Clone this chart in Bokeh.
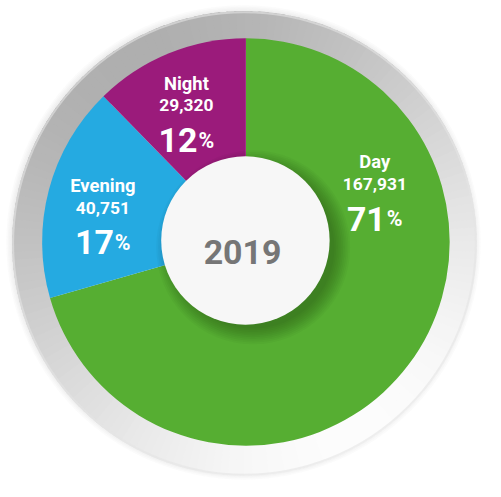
import math
from bokeh.plotting import figure
from bokeh.models import Range1d, ColumnDataSource
from bokeh.core.properties import value
from bokeh.embed import file_html
from bokeh.resources import INLINE

# ---- data ----
categories = ["Day", "Evening", "Night"]
counts = [167931, 40751, 29320]
colors = ["#56AE32", "#25AAE1", "#9B1B7B"]
center_label = "2019"

# ---- layout (label anchor: fraction along wedge, radius) ----
label_frac = [0.259, 0.479, 0.47]
label_rad = [146, 152, 154]

W, H = 485, 481
S = W / 501.0  # px per data unit

def Y(img_y):
    return 497 - img_y

def fs(px):
    return "%.1fpx" % (px * S)

p = figure(width=W, height=H, output_backend="svg", toolbar_location=None,
           x_range=Range1d(0, 501), y_range=Range1d(0, 497),
           min_border=0, outline_line_color=None, background_fill_color="white",
           border_fill_color="white")
p.axis.visible = False
p.grid.visible = False

cx, cy = 253.5, Y(249.5)
R = 210.5

# outer soft shadow
for i in range(4):
    p.circle(x=251, y=Y(250), radius=245 - i * 1.5, fill_color="#9a9a9a",
             fill_alpha=0.045, line_color=None)

# grey ring with angular shading
rcx, rcy = 252, Y(251)
n = 180
starts, ends, cols = [], [], []
for k in range(n):
    a0 = 2 * math.pi * k / n
    a1 = 2 * math.pi * (k + 1) / n + 0.01
    am = (a0 + a1) / 2
    c = 214 + 20 * math.cos(am) - 33 * math.sin(am)
    c = int(max(0, min(255, c)))
    starts.append(a0)
    ends.append(a1)
    cols.append("#%02x%02x%02x" % (c, c, c))
p.annular_wedge(x=rcx, y=rcy, inner_radius=200, outer_radius=240,
                start_angle=starts, end_angle=ends, fill_color=cols, line_color=None)
p.circle(x=rcx, y=rcy, radius=239, fill_color=None, line_color="#e4e4e4",
         line_alpha=0.6, line_width=2)

# pie wedges
total = sum(counts)
ang = math.pi / 2
st, en = [], []
for v in counts:
    st.append(ang)
    ang -= 2 * math.pi * v / total
    en.append(ang)
src = ColumnDataSource(dict(start=st, end=en, color=colors))
p.wedge(x=cx, y=cy, radius=R, start_angle="start", end_angle="end",
        direction="clock", fill_color="color", line_color=None, source=src)

# inner circle shadow (toward bottom-right)
wcx, wcy, wr = 253, Y(248), 87
for i in range(10):
    p.circle(x=wcx + 8, y=wcy - 7, radius=wr - 3 + i * 1.8, fill_color="black",
             fill_alpha=0.028, line_color=None)
p.circle(x=wcx, y=wcy, radius=wr, fill_color="#F7F7F7", line_color=None)

p.text(x=[250], y=[Y(260)], text=[center_label], text_align="center",
       text_baseline="alphabetic", text_color="#767676",
       text_font=value("Roboto"), text_font_style="bold", text_font_size=fs(35))

# labels
font = value("Roboto")
for i, (cat, v) in enumerate(zip(categories, counts)):
    pct = round(100 * v / total)
    mid = st[i] + (en[i] - st[i]) * label_frac[i]
    ax = cx + label_rad[i] * math.cos(mid)
    ay = cy + label_rad[i] * math.sin(mid)
    p.text(x=[ax], y=[ay + 23], text=[cat], text_align="center",
           text_baseline="alphabetic", text_color="white", text_font=font,
           text_font_style="bold", text_font_size=fs(19))
    p.text(x=[ax], y=[ay], text=["{:,}".format(v)], text_align="center",
           text_baseline="alphabetic", text_color="white", text_font=font,
           text_font_style="bold", text_font_size=fs(18))
    num = str(pct)
    w1 = 0.56 * 35 * len(num)
    w2 = 0.75 * 22
    xs = ax + (w1 - w2) / 2
    p.text(x=[xs], y=[ay - 36], text=[num], text_align="right",
           text_baseline="alphabetic", text_color="white", text_font=font,
           text_font_style="bold", text_font_size=fs(35))
    p.text(x=[xs + 1], y=[ay - 36], text=["%"], text_align="left",
           text_baseline="alphabetic", text_color="white", text_font=font,
           text_font_style="bold", text_font_size=fs(22))

open("out.html", "w").write(file_html(p, INLINE))
